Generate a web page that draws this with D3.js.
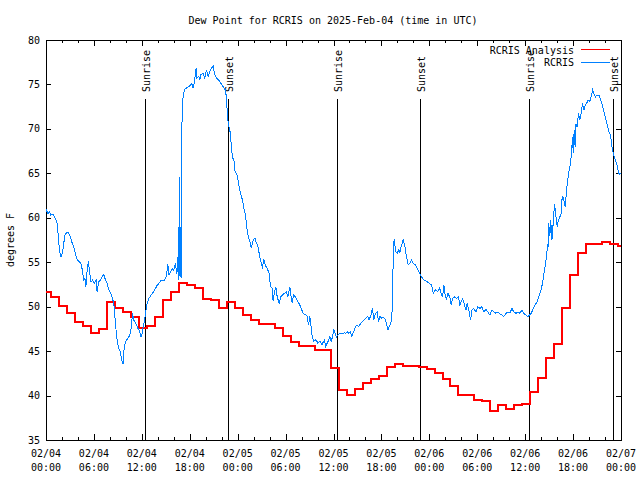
<!DOCTYPE html>
<html><head><meta charset="utf-8">
<script src="https://cdn.jsdelivr.net/npm/d3@7"></script>
<style>
body{margin:0;background:#fff;}
svg text{font-family:"DejaVu Sans Mono",monospace;font-size:10px;fill:#000;}
</style></head><body>
<svg id="c" width="640" height="480"></svg>
<script>
const title = "Dew Point for RCRIS on 2025-Feb-04 (time in UTC)";
const yLabel = "degrees F";
const seriesNames = ["RCRIS Analysis", "RCRIS"];
const startTime = "2025-02-04T00:00Z";
const endTime = "2025-02-07T00:00Z";
const yTicks = [35, 40, 45, 50, 55, 60, 65, 70, 75, 80];
const sunEvents = [
  ["Sunrise", "2025-02-04T12:24Z"], ["Sunset", "2025-02-04T22:48Z"],
  ["Sunrise", "2025-02-05T12:27Z"], ["Sunset", "2025-02-05T22:51Z"],
  ["Sunrise", "2025-02-06T12:26Z"], ["Sunset", "2025-02-06T22:57Z"]
];
// hourly analysis values, first valid at 2025-02-03 23:39Z
const analysisFirst = "2025-02-03T23:39Z";
const analysisValues = [
  51.6, 51.1, 50.1, 49.3, 48.3, 47.8, 47.0, 47.45, 50.5, 49.9,
  49.35, 48.8, 47.6, 47.8, 48.8, 50.8, 51.7, 52.7, 52.4, 52.1,
  50.9, 50.7, 49.9, 50.5, 49.9, 49.1, 48.5, 48.0, 48.0, 47.6,
  46.7, 46.0, 45.55, 45.55, 45.1, 45.15, 43.1, 40.6, 40.1, 40.7,
  41.4, 41.9, 42.2, 43.2, 43.5, 43.35, 43.35, 43.2, 42.95, 42.5,
  41.85, 41.1, 40.1, 40.1, 39.55, 39.4, 38.3, 38.9, 38.45, 38.9,
  39.1, 40.4, 42.0, 44.25, 45.8, 49.9, 53.55, 56.0, 57.1, 57.1,
  57.3, 57.1, 56.8
];
// observations: hours after 2025-02-04 00:00Z and dew point (F)
const obsHours = [
  0.0,0.1,0.25,0.45,0.6,0.85,1.17,1.38,1.5,1.7,1.88,2.05,2.22,2.38,2.55,2.72,2.97,3.22,3.47,3.68,
  3.89,4.14,4.35,4.56,4.72,4.88,5.0,5.13,5.31,5.43,5.64,5.85,6.06,6.27,6.39,6.6,6.81,7.03,7.23,7.45,
  7.65,7.85,8.06,8.27,8.48,8.6,8.73,8.9,9.1,9.32,9.48,9.65,9.8,9.98,10.23,10.49,10.7,10.82,10.99,11.24,
  11.49,11.74,11.9,11.99,12.1,12.24,12.4,12.66,12.87,13.16,13.49,13.74,13.9,14.12,14.35,14.54,14.83,15.08,15.25,15.4,
  15.5,15.79,16.0,16.2,16.35,16.5,16.6,16.65,16.72,16.76,16.8,16.88,16.95,17.04,17.17,17.33,17.58,17.88,18.08,18.25,
  18.4,18.59,18.8,18.9,19.13,19.25,19.4,19.67,19.88,20.09,20.3,20.5,20.7,20.92,21.09,21.34,21.63,21.93,22.18,22.43,
  22.6,22.68,22.85,23.0,23.18,23.35,23.5,23.68,23.93,24.1,24.35,24.6,24.77,24.98,25.19,25.35,25.5,25.69,25.94,26.19,
  26.35,26.52,26.69,26.86,27.11,27.25,27.44,27.69,27.94,28.11,28.3,28.44,28.61,28.78,28.95,29.2,29.4,29.61,29.85,30.11,
  30.28,30.53,30.7,30.82,31.0,31.24,31.53,31.78,31.95,32.2,32.5,32.7,32.87,33.04,33.2,33.33,33.54,33.79,34.04,34.3,
  34.54,34.7,34.87,35.04,35.21,35.4,35.54,35.7,35.88,36.04,36.2,36.38,36.55,36.8,37.1,37.38,37.55,37.71,37.92,38.1,
  38.29,38.54,38.75,38.96,39.17,39.38,39.59,39.8,40.05,40.3,40.46,40.71,40.88,41.05,41.26,41.47,41.63,41.8,42.05,42.3,
  42.5,42.72,42.84,43.05,43.3,43.43,43.51,43.64,43.76,43.97,44.18,44.3,44.47,44.72,44.93,45.14,45.35,45.56,45.77,45.97,
  46.23,46.48,46.73,46.98,47.31,47.73,48.06,48.31,48.48,48.77,49.06,49.31,49.48,49.65,49.82,50.02,50.15,50.32,50.57,50.74,
  50.91,51.16,51.41,51.66,51.82,51.99,52.16,52.41,52.58,52.75,52.99,53.16,53.33,53.58,53.83,54.08,54.33,54.58,54.83,55.08,
  55.33,55.58,55.83,56.08,56.33,56.58,56.83,57.09,57.34,57.59,57.84,58.09,58.34,58.59,58.84,59.09,59.34,59.59,59.84,60.09,
  60.34,60.55,60.76,61.01,61.26,61.51,61.76,62.01,62.2,62.4,62.55,62.68,62.8,62.88,62.95,63.09,63.2,63.35,63.51,63.68,
  63.8,64.01,64.15,64.35,64.5,64.64,64.8,65.01,65.18,65.43,65.6,65.77,65.93,66.02,66.14,66.25,66.35,66.5,66.68,66.85,
  67.02,67.18,67.35,67.52,67.7,67.9,68.1,68.31,68.44,68.6,68.81,69.0,69.23,69.44,69.65,69.86,70.07,70.28,70.48,70.69,
  70.86,71.03,71.28,71.53,71.7,71.86,72.0
];
const obsValues = [
  60.6,60.9,60.4,60.7,60.3,60.4,59.9,59.4,58.3,56.2,55.6,56.0,57.1,58.1,58.3,58.4,58.1,57.3,56.75,56.0,
  55.3,55.1,54.9,54.1,53.0,53.2,52.25,53.9,55.1,54.1,52.8,53.0,52.6,53.0,51.7,52.8,53.0,53.4,53.6,53.0,
  52.6,51.9,51.6,51.1,50.4,49.25,47.75,46.25,45.3,44.9,44.0,43.55,45.5,46.1,46.4,46.8,47.75,49.3,48.5,48.1,
  47.6,47.2,46.6,46.8,47.4,47.9,48.9,50.4,50.9,51.3,51.7,52.1,52.4,52.6,52.9,53.0,53.0,53.4,54.8,53.6,
  53.75,54.3,54.1,54.9,53.8,54.1,59.0,53.0,58.5,64.6,53.3,57.5,53.2,72.5,73.6,74.4,74.6,74.75,74.9,75.1,
  74.6,75.3,76.8,75.7,75.9,75.5,76.1,76.25,75.7,76.6,75.9,76.4,76.8,77.1,76.25,75.7,75.5,75.1,74.75,74.4,
  73.6,72.1,70.25,70.1,68.4,66.7,66.7,65.2,64.8,63.9,62.75,62.0,61.1,60.3,58.6,57.7,57.5,56.6,57.5,57.7,
  57.1,56.9,56.0,55.25,54.3,55.4,54.7,54.3,53.75,52.25,52.1,50.6,51.7,52.25,51.1,50.4,51.1,51.3,51.5,51.7,
  51.1,52.25,51.1,50.4,51.3,51.1,50.6,50.2,49.8,49.25,49.1,48.9,47.9,48.9,47.75,46.6,46.1,46.3,45.9,46.1,
  45.7,46.0,46.25,45.5,45.9,46.25,46.6,46.1,46.6,47.4,47.0,46.6,46.8,47.0,47.0,47.05,47.0,47.2,47.0,47.2,
  46.7,47.2,47.75,47.9,47.75,48.1,48.3,48.5,48.7,48.9,48.5,49.1,49.8,48.5,49.25,49.4,48.3,48.9,48.7,48.8,
  48.5,47.75,47.4,47.9,48.5,53.0,57.3,57.5,56.2,56.0,56.4,56.0,56.75,57.5,56.9,55.6,54.7,54.9,55.25,54.9,
  54.7,54.3,53.9,53.4,53.0,52.8,52.6,52.4,51.5,51.9,51.7,52.1,51.5,51.1,52.4,51.1,50.9,51.5,51.1,50.2,
  50.9,51.1,50.9,51.1,50.2,50.6,50.9,50.2,49.6,50.4,49.4,48.5,49.6,49.8,49.4,50.0,49.8,50.0,49.4,49.7,
  49.4,49.05,49.6,49.4,49.25,49.4,49.2,49.05,48.9,49.25,49.4,49.3,49.8,49.4,49.25,49.4,49.25,49.6,49.25,49.05,
  48.9,49.05,49.25,49.8,50.2,50.6,51.3,51.9,52.8,54.0,54.9,55.6,57.0,56.75,59.4,57.9,59.75,57.5,59.4,61.6,
  60.5,59.0,59.75,60.1,60.5,62.4,62.2,61.25,63.1,65.0,65.75,66.9,69.1,67.25,69.9,68.0,70.6,70.25,71.75,71.0,
  71.75,72.9,72.1,72.7,72.9,73.25,73.1,73.8,74.4,74.0,73.6,73.8,73.8,73.25,72.7,71.9,71.2,70.4,69.7,69.3,
  68.0,67.25,66.5,65.9,65.0,64.9,65.0
];

const svg = d3.select("#c");
const L = 46, R = 621, T = 40, B = 440;
const HOUR = 3600e3;
const t0 = new Date(startTime), t1 = new Date(endTime);
const x = d3.scaleUtc().domain([t0, t1]).range([L, R]);
const y = d3.scaleLinear().domain([35, 80]).range([B, T]);

const major = d3.utcHour.every(6).range(t0, new Date(+t1 + 1));
const minor = d3.utcHour.every(2).range(t0, new Date(+t1 + 1)).filter(d => d.getUTCHours() % 6 !== 0);

function clean(g) { g.select(".domain").remove(); g.attr("shape-rendering", "crispEdges"); }
svg.append("g").attr("transform", `translate(0,${B})`)
  .call(d3.axisBottom(x).tickValues(major).tickSizeInner(-6).tickSizeOuter(0).tickFormat("")).call(clean);
svg.append("g").attr("transform", `translate(0,${B})`)
  .call(d3.axisBottom(x).tickValues(minor).tickSizeInner(-3).tickSizeOuter(0).tickFormat("")).call(clean);
svg.append("g").attr("transform", `translate(0,${T})`)
  .call(d3.axisTop(x).tickValues(major).tickSizeInner(-6).tickSizeOuter(0).tickFormat("")).call(clean);
svg.append("g").attr("transform", `translate(0,${T})`)
  .call(d3.axisTop(x).tickValues(minor).tickSizeInner(-3).tickSizeOuter(0).tickFormat("")).call(clean);
svg.append("g").attr("transform", `translate(${L},0)`)
  .call(d3.axisLeft(y).tickValues(yTicks).tickSizeInner(-5).tickSizeOuter(0).tickFormat("")).call(clean);
svg.append("g").attr("transform", `translate(${R},0)`)
  .call(d3.axisRight(y).tickValues(yTicks).tickSizeInner(-5).tickSizeOuter(0).tickFormat("")).call(clean);

// tick labels
svg.append("g").selectAll("text").data(yTicks).join("text")
  .attr("x", 40).attr("y", d => y(d)).attr("dy", "0.35em").attr("text-anchor", "end").text(d => d);
const fmtD = d3.utcFormat("%m/%d"), fmtH = d3.utcFormat("%H:%M");
const xl = svg.append("g").selectAll("text").data(major).join("text")
  .attr("text-anchor", "middle");
xl.append("tspan").attr("x", d => x(d)).attr("y", 457).text(fmtD);
xl.append("tspan").attr("x", d => x(d)).attr("y", 471).text(fmtH);

// frame
svg.append("rect").attr("x", L + 0.5).attr("y", T + 0.5).attr("width", R - L).attr("height", B - T)
  .attr("fill", "none").attr("stroke", "#000").attr("shape-rendering", "crispEdges");

// title & y label
svg.append("text").attr("x", 333).attr("y", 24).attr("text-anchor", "middle").text(title);
svg.append("text").attr("transform", `translate(14,${(T + B) / 2}) rotate(-90)`)
  .attr("text-anchor", "middle").text(yLabel);

// sun events
const sg = svg.append("g");
sunEvents.forEach(([name, t]) => {
  const xx = Math.round(x(new Date(t))) + 0.5;
  sg.append("line").attr("x1", xx).attr("x2", xx).attr("y1", 99).attr("y2", B)
    .attr("stroke", "#000").attr("stroke-width", 1).attr("shape-rendering", "crispEdges");
  sg.append("text").attr("transform", `translate(${xx + 4.5},92) rotate(-90)`)
    .attr("text-anchor", "start").text(name);
});

// data
svg.append("clipPath").attr("id", "clip").append("rect")
  .attr("x", L).attr("y", T).attr("width", R - L).attr("height", B - T);
const aFirst = new Date(analysisFirst);
const aData = analysisValues.map((v, i) => ({ t: new Date(+aFirst + i * HOUR), v }));
aData.push({ t: new Date(+aData[aData.length - 1].t + HOUR), v: analysisValues[analysisValues.length - 1] });
const oData = obsHours.map((h, i) => ({ t: new Date(+t0 + h * HOUR), v: obsValues[i] }));

const stepLine = d3.line().x(d => Math.round(x(d.t))).y(d => Math.round(y(d.v))).curve(d3.curveStepAfter);
const plainLine = d3.line().x(d => x(d.t)).y(d => y(d.v));
const dg = svg.append("g").attr("clip-path", "url(#clip)");
dg.append("path").datum(aData).attr("d", stepLine).attr("fill", "none")
  .attr("stroke", "#ff0000").attr("stroke-width", 2).attr("shape-rendering", "crispEdges");
dg.append("path").datum(oData).attr("d", plainLine).attr("fill", "none")
  .attr("stroke", "#0080ff").attr("stroke-width", 1).attr("shape-rendering", "crispEdges");

// legend
const colors = ["#ff0000", "#0080ff"];
const lg = svg.append("g");
seriesNames.forEach((n, i) => {
  const yy = 50 + i * 12.7;
  lg.append("text").attr("x", 574).attr("y", yy).attr("dy", "0.35em").attr("text-anchor", "end").text(n);
  lg.append("line").attr("x1", 581).attr("x2", 610).attr("y1", Math.round(yy) - 0.5).attr("y2", Math.round(yy) - 0.5)
    .attr("stroke", colors[i]).attr("stroke-width", 1).attr("shape-rendering", "crispEdges");
});
</script>
</body></html>
